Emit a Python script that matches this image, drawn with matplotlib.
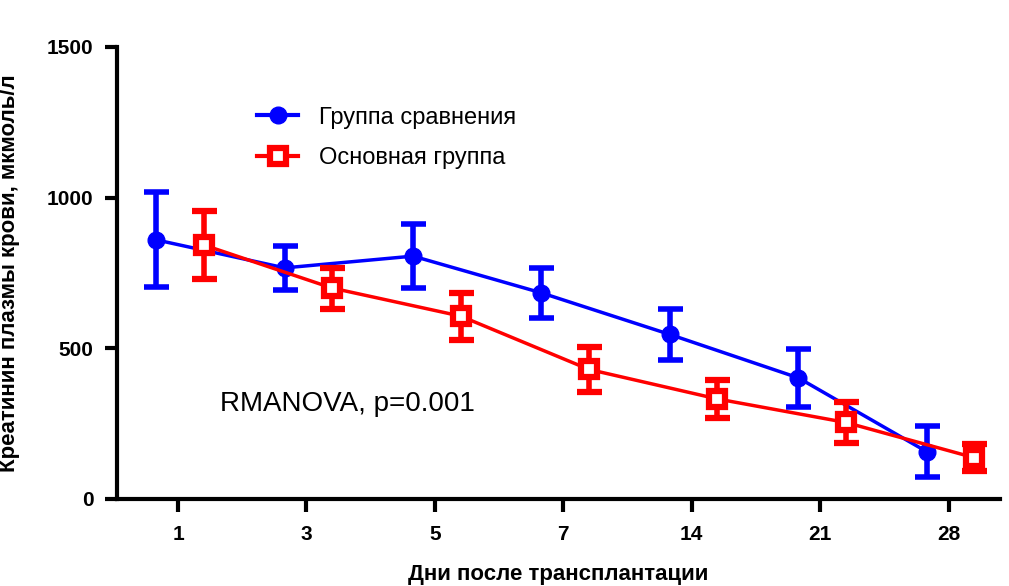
import numpy as np
import matplotlib
matplotlib.use('Agg')
import matplotlib.pyplot as plt
from matplotlib.lines import Line2D

plt.rcParams['font.family'] = ['Liberation Sans', 'DejaVu Sans']

days = ['1', '3', '5', '7', '14', '21', '28']
comp_mean = [860, 767, 806, 684, 546, 402, 157]
comp_err = [158, 72, 105, 84, 84, 97, 84]
main_mean = [843, 700, 607, 430, 332, 254, 137]
main_err = [113, 68, 78, 74, 63, 67, 45]

x = np.arange(len(days))
blue = '#0000ff'
red = '#ff0000'

fig = plt.figure(figsize=(10.09, 5.86), dpi=100)
ax = fig.add_axes([117 / 1009, 87 / 586, (1000 - 117) / 1009, 452 / 586])

ax.errorbar(x - 0.17, comp_mean, yerr=comp_err, color=blue, lw=2.5,
            elinewidth=4, capsize=9, capthick=4, marker='o', ms=12, zorder=3)
ax.errorbar(x + 0.2, main_mean, yerr=main_err, color=red, lw=2.5,
            elinewidth=4, capsize=9, capthick=4, marker='s', ms=11,
            mfc='white', mew=4.5, zorder=4)

ax.set_xlim(-0.475, 6.4)
ax.set_ylim(0, 1500)
ax.set_xticks(x)
ax.set_xticklabels(days)
ax.set_yticks([0, 500, 1000, 1500])

for s in ['top', 'right']:
    ax.spines[s].set_visible(False)
for s in ['left', 'bottom']:
    ax.spines[s].set_linewidth(3)
ax.tick_params(width=3, length=9, labelsize=15)
ax.tick_params(axis='x', pad=10)
ax.tick_params(axis='y', pad=8)
for lab in ax.get_xticklabels() + ax.get_yticklabels():
    lab.set_fontweight('bold')

ax.set_xlabel('Дни после трансплантации', fontsize=16, fontweight='bold', labelpad=14)
ax.set_ylabel('Креатинин плазмы крови, мкмоль/л', fontsize=16, fontweight='bold')
ax.yaxis.set_label_coords(-0.11, 0.5)

ax.text(0.117, 0.21, 'RMANOVA, p=0.001', transform=ax.transAxes, fontsize=20,
        ha='left', va='center')

handles = [Line2D([], [], color=blue, lw=3, marker='o', ms=12),
           Line2D([], [], color=red, lw=3, marker='s', ms=11, mfc='white', mew=4.5)]
ax.legend(handles, ['Группа сравнения', 'Основная группа'], loc='upper left',
          bbox_to_anchor=(0.135, 0.915), frameon=False, fontsize=17,
          handlelength=1.7, handletextpad=0.9, labelspacing=0.78)

plt.savefig('out.png', dpi=100)
